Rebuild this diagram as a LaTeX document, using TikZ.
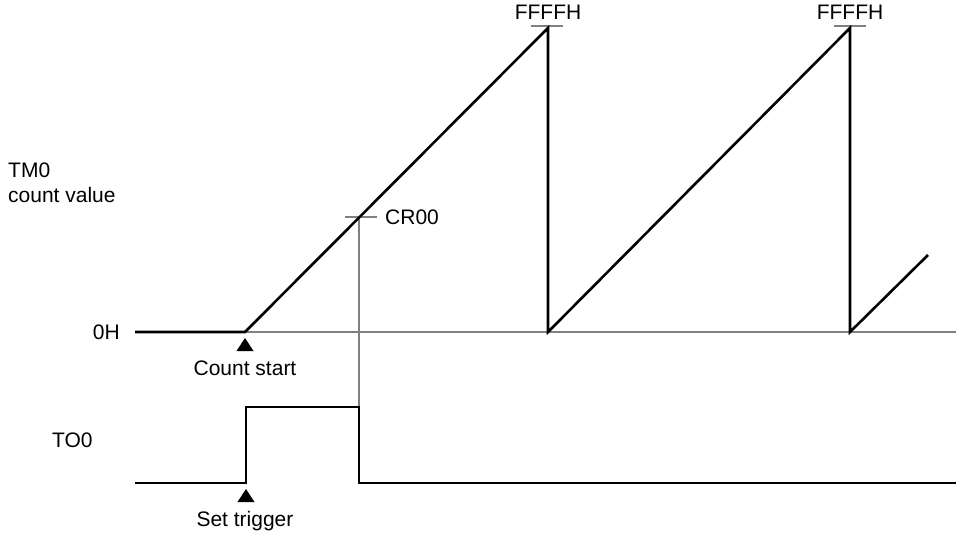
\documentclass[tikz,border=0pt]{standalone}
\usepackage{fontspec}
\setmainfont{Liberation Sans}
\usepackage{tikz}
\usetikzlibrary{calc, positioning}

\tikzset{
    sig/.style={line width=2.6pt, black},
    guide/.style={line width=1.3pt, gray},
    lbl/.style={inner sep=0pt, font=\fontsize{21}{24}\selectfont},
    mark tri/.style={fill=black, draw=none}
}

\begin{document}
\begin{tikzpicture}[x=1pt, y=-1pt]

    % =================================================================
    % 1. KHUNG ẢNH VÀ TỌA ĐỘ CÁC ĐIỂM CHÍNH
    % =================================================================
    \useasboundingbox (0,0) rectangle (956,535);

    % Đường đếm TM0
    \coordinate (S0) at (135,332);
    \coordinate (Start) at (245,332);
    \coordinate (P1) at (548,28);
    \coordinate (Z1) at (548,332);
    \coordinate (P2) at (850,28);
    \coordinate (Z2) at (850,332);
    \coordinate (E3) at (928,255);
    \coordinate (ZEnd) at (956,332);

    % Điểm so sánh CR00
    \coordinate (CR) at (359,217);

    % Đường tín hiệu TO0
    \coordinate (L0) at (135,483);
    \coordinate (L1) at (246,483);
    \coordinate (H1) at (246,407);
    \coordinate (H2) at (359,407);
    \coordinate (L2) at (359,483);
    \coordinate (LEnd) at (956,483);

    % =================================================================
    % 2. ĐƯỜNG MỐC 0H VÀ CÁC VẠCH NGẮN
    % =================================================================
    \draw[guide] (Start) -- (ZEnd);
    \draw[guide] ($(P1)+(-17,-2)$) -- ($(P1)+(15,-2)$);
    \draw[guide] ($(P2)+(-16,-2)$) -- ($(P2)+(16,-2)$);
    \draw[guide] ($(CR)+(-14,0)$) -- ($(CR)+(18,0)$);
    \draw[guide] (CR) -- (H2);

    % =================================================================
    % 3. GIÁ TRỊ ĐẾM TM0 VÀ TÍN HIỆU TO0
    % =================================================================
    \draw[sig] (S0) -- (Start) -- (P1) -- (Z1) -- (P2) -- (Z2) -- (E3);
    \draw[sig] (L0) -- (L1) -- (H1) -- (H2) -- (L2) -- (LEnd);

    % Các tam giác đánh dấu
    \fill[mark tri] (245,338) -- (253.5,351) -- (236.5,351) -- cycle;
    \fill[mark tri] (246,489) -- (254.5,502) -- (237.5,502) -- cycle;

    % =================================================================
    % 4. GÁN NHÃN
    % =================================================================
    \node[lbl, anchor=south] (ff1) at ($(P1)+(0,-8)$) {FFFFH};
    \node[lbl, anchor=south] (ff2) at ($(P2)+(0,-8)$) {FFFFH};
    \node[lbl, anchor=west] (cr) at ($(CR)+(26,0)$) {CR00};
    \node[lbl, anchor=base west] (tm) at (8,177) {TM0};
    \node[lbl, anchor=base west] (cv) at (8,202) {count value};
    \node[lbl, anchor=east] (zh) at (120,332) {0H};
    \node[lbl, anchor=west] (to) at (52,440) {TO0};
    \node[lbl, anchor=base] (cs) at (245,375) {Count start};
    \node[lbl, anchor=base] (st) at (245,526) {Set trigger};

\end{tikzpicture}
\end{document}
